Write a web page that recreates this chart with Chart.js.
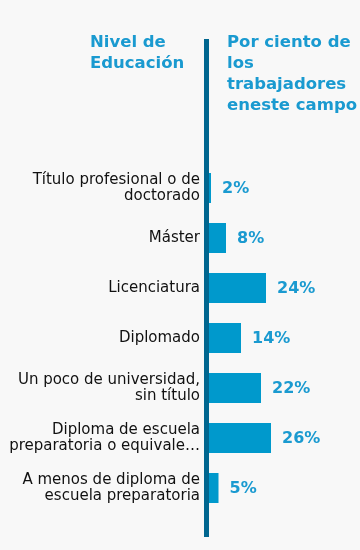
<!DOCTYPE html>
<html><head><meta charset="utf-8">
<script src="https://cdn.jsdelivr.net/npm/chart.js@4"></script>
<style>
html,body{margin:0;padding:0;background:#f8f8f8;}
#wrap{position:relative;width:360px;height:550px;overflow:hidden;}
canvas{position:absolute;left:0;top:0;}
.hdr{position:absolute;font-family:"DejaVu Sans",Verdana,sans-serif;font-weight:bold;font-size:16.5px;line-height:21px;color:#1a9ad0;white-space:nowrap;}
</style></head><body>
<div id="wrap">
<canvas id="c" width="360" height="550"></canvas>
<div class="hdr" style="left:90px;top:31px">Nivel de<br>Educación</div>
<div class="hdr" style="left:227px;top:31px">Por ciento de<br>los<br>trabajadores<br>eneste campo</div>
</div>
<script>
const categories = [
  ["Título profesional o de", "doctorado"],
  ["Máster"],
  ["Licenciatura"],
  ["Diplomado"],
  ["Un poco de universidad,", "sin título"],
  ["Diploma de escuela", "preparatoria o equivale…"],
  ["A menos de diploma de", "escuela preparatoria"]
];
const percentValues = [2, 8, 24, 14, 22, 26, 5];
const valueLabels = ["2%", "8%", "24%", "14%", "22%", "26%", "5%"];

const axisLinePlugin = {
  id: 'axisLine',
  afterDatasetsDraw(chart) {
    const ctx = chart.ctx;
    const x0 = chart.scales.x.getPixelForValue(0);
    ctx.save();
    ctx.fillStyle = '#00668f';
    ctx.fillRect(x0 - 2, 39, 5, 498);
    ctx.restore();
  }
};
const valueLabelPlugin = {
  id: 'valueLabels',
  afterDatasetsDraw(chart) {
    const ctx = chart.ctx;
    const meta = chart.getDatasetMeta(0);
    ctx.save();
    ctx.font = 'bold 16px "DejaVu Sans", Verdana, sans-serif';
    ctx.fillStyle = '#1a9ad0';
    ctx.textAlign = 'left';
    ctx.textBaseline = 'middle';
    meta.data.forEach((el, i) => {
      ctx.fillText(valueLabels[i], el.x + 11, el.y + 1);
    });
    ctx.restore();
  }
};

new Chart(document.getElementById('c'), {
  type: 'bar',
  data: {
    labels: categories,
    datasets: [{
      data: percentValues,
      backgroundColor: '#0099cc',
      borderWidth: 0,
      barPercentage: 0.6,
      categoryPercentage: 1
    }]
  },
  options: {
    indexAxis: 'y',
    responsive: false,
    animation: false,
    devicePixelRatio: 1,
    layout: { padding: { top: 163, bottom: 37, right: 4, left: 0 } },
    plugins: { legend: { display: false }, tooltip: { enabled: false }, title: { display: false } },
    scales: {
      x: { display: false, min: 0, max: 60 },
      y: {
        afterFit(s) { s.width = 206; },
        grid: { display: false, drawTicks: false },
        border: { display: false },
        ticks: {
          padding: 6,
          color: '#111111',
          font: { family: '"DejaVu Sans", Verdana, sans-serif', size: 15, lineHeight: 1.1 }
        }
      }
    }
  },
  plugins: [axisLinePlugin, valueLabelPlugin]
});
</script>
</body></html>
